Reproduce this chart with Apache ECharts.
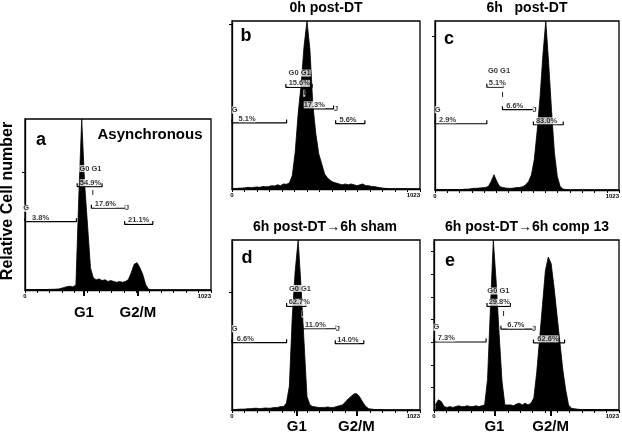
<!DOCTYPE html>
<html>
<head>
<meta charset="utf-8">
<script src="https://cdn.jsdelivr.net/npm/echarts@6/dist/echarts.min.js"></script>
<style>html,body{margin:0;padding:0;background:#fff}#c{width:622px;height:434px}</style>
</head>
<body>
<div id="c"></div>
<script>
// ---------- data (DNA content histograms, 64 channels of 16, relative counts in % of plot height) ----------
const histA = [0.3,0.3,0.3,0.3,0.3,0.3,0.3,0.3,0.4,0.4,0.5,0.6,1,1.5,2,2.2,1.8,3,55,100,62,38,13,7,6,6.5,5.5,6,5,5.5,5,4.5,5,4.5,5,6,10,15,16,13,9,3,0.5,0,0,0,0,0,0,0,0,0,0,0,0,0,0,0,0,0,0,0,0,0];
const histB = [0.3,0.3,0.5,0.5,0.8,1,0.8,1,1.2,1,1.5,1.3,1.5,2,1.8,2.5,2,3,2.8,3.5,8,22,45,62,85,100,83,50,33,21,15,9,6.5,5,4,3.5,3,2.5,3,2.5,3,2.5,2,2.5,3,2,2,1.5,1.5,1,0.8,0.5,0.3,0,0,0,0,0,0,0,0,0,0,0];
const histC = [0.3,0.3,0.3,0.3,0.3,0.3,0.3,0.3,0.3,0.3,0.5,0.5,0.8,1,1,1.2,1.3,1.5,2,5,9,5,2,1.5,1.2,1,1,1.2,1.5,1.5,2,3,5,9,18,35,55,80,100,75,47,22,8,2,0.5,0.3,0,0,0,0,0,0,0,0,0,0,0,0,0,0,0,0,0,0];
const histD = [0.3,0.3,0.5,0.5,0.6,0.8,0.8,1,1,0.8,1,1.2,1,1.2,1.5,1.5,2,2,4,14,55,82,100,72,40,8,3,2,1.8,1.5,1.5,1.5,1.8,1.5,1.5,2,2.5,3,4.5,6.5,8,9.5,9.5,7.5,4.5,2,0.8,0.5,0.3,0.3,0.3,0,0,0,0,0,0,0,0,0,0,0,0,0];
const histE = [3,6,5,2,1.5,2,1.5,2,2.5,2,2,2.5,2,2,2.5,2,2.5,3,18,60,100,75,45,17,3,3,3,2.5,3.5,4,3,4,3,4,7,22,42,62,82,90,86,72,56,40,24,12,3,1,0.8,0.5,0.3,0.3,0.3,0.3,0.3,0.3,0.3,0.3,0.3,0.3,0.3,0.3,0.3,0.3];

// gates: [start channel, end channel, level]
const gatesA = [[0,283,40],[287,424,60.4],[365,552,47.8],[548,703,38.4]];
const gatesB = [[0,297,39.4],[293,436,60.5],[384,553,47.7],[564,723,38.9]];
const gatesC = [[0,288,39.2],[288,380,60.8],[375,547,47.6],[547,713,38.6]];
const gatesD = [[0,297,39.6],[297,403,61],[384,567,47.8],[562,717,39]];
const gatesE = [[0,288,40],[293,422,61],[370,550,47.6],[550,722,39.5]];

// gate percentages: [channel, level, text]
const pctA = [[86,40,'3.8%'],[360,60.4,'54.9%'],[442,47.8,'17.6%'],[625,38.4,'21.1%']];
const pctB = [[82,39.4,'5.1%'],[366,60.5,'15.6%'],[448,47.7,'17.3%'],[631,38.9,'5.6%']];
const pctC = [[70,39.2,'2.9%'],[347,60.8,'5.1%'],[443,47.6,'6.6%'],[620,38.6,'83.0%']];
const pctD = [[73,39.6,'6.6%'],[366,61,'62.7%'],[454,47.8,'11.0%'],[631,39,'14.0%']];
const pctE = [[68,40,'7.3%'],[361,61,'29.8%'],[453,47.6,'6.7%'],[630,39.5,'62.6%']];

// gate names: [channel, level, text]
const namesA = [[7,47.8,'G'],[360,71,'G0 G1'],[373,56.5,'I'],[561,47.8,'J']];
const namesB = [[15,47,'G'],[368,69,'G0 G1'],[393,57,'I'],[567,47.7,'J']];
const namesC = [[15,47.5,'G'],[356,70.5,'G0 G1'],[375,56.3,'I'],[554,47.6,'J']];
const namesD = [[15,47.8,'G'],[370,71.5,'G0 G1'],[384,56.5,'I'],[576,47.8,'J']];
const namesE = [[13,48.6,'G'],[356,70,'G0 G1'],[385,56.4,'I'],[554,47.6,'J']];

// axis ticks / labels
const xTicks = [0,68,136,205,273,341,409,477,546,614,682,750,818,887,955,1023];
const xTickLabels = [0,1023];
const phaseLabels = ['G1','G2/M'];
const phaseA = [324,621];
const phaseD = [353,677];
const phaseE = [334,645];
const yTicksA = [69];
const yTicksB = [98];
const yTicksC = [90.7];
const yTicksD = [69.4];
const yTicksE = [13.3,26.6,40,53.3,66.6,80,93.3];

const titles = ['0h post-DT','6h   post-DT','6h post-DT\u21926h sham','6h post-DT\u21926h comp 13'];
const letters = ['a','b','c','d','e'];

// ---------- layout ----------
const layout = [
  {grid:{left:25,top:119,width:186,height:171}, hist:histA, gates:gatesA, pct:pctA, names:namesA, yTicks:yTicksA, phase:phaseA, phaseMargin:15, letter:[41,140]},
  {grid:{left:232,top:21,width:188,height:168}, hist:histB, gates:gatesB, pct:pctB, names:namesB, yTicks:yTicksB, phase:null, letter:[246,36]},
  {grid:{left:435,top:21,width:186,height:169}, hist:histC, gates:gatesC, pct:pctC, names:namesC, yTicks:yTicksC, phase:null, letter:[449,39]},
  {grid:{left:232,top:240,width:188,height:171}, hist:histD, gates:gatesD, pct:pctD, names:namesD, yTicks:yTicksD, phase:phaseD, phaseMargin:9, letter:[247,258]},
  {grid:{left:434,top:240,width:186,height:171}, hist:histE, gates:gatesE, pct:pctE, names:namesE, yTicks:yTicksE, phase:phaseE, phaseMargin:9, letter:[450,261]}
];

const binCenters = Array.from({length:64}, (_, i) => 16 * i + 8);
const FONT = 'Arial, "Liberation Sans", sans-serif';

const grids = [], xAxes = [], yAxes = [], series = [];
layout.forEach((p, k) => {
  grids.push(Object.assign({show:true, borderColor:'#000', borderWidth:1.3, containLabel:false}, p.grid));
  const xi = xAxes.length;
  xAxes.push({
    gridIndex:k, type:'value', min:0, max:1023,
    axisLine:{show:true, onZero:false, lineStyle:{color:'#000', width:1.3}},
    axisTick:{show:true, customValues:xTicks, length:3, lineStyle:{color:'#000', width:1}},
    axisLabel:{show:true, customValues:xTickLabels, formatter:(v) => String(Math.round(v)), fontSize:6, fontWeight:'bold', fontFamily:FONT, color:'#000', margin:3, alignMaxLabel:'right'},
    splitLine:{show:false}
  });
  if (p.phase) {
    const ph = p.phase;
    xAxes.push({
      gridIndex:k, type:'value', min:0, max:1023, position:'bottom',
      axisLine:{show:false},
      axisTick:{show:true, customValues:ph, length:6, lineStyle:{color:'#000', width:2}},
      axisLabel:{show:true, customValues:ph, formatter:(v) => phaseLabels[ph.indexOf(v)] || '', fontSize:15, fontWeight:'bold', fontFamily:FONT, color:'#000', margin:p.phaseMargin},
      splitLine:{show:false}
    });
  }
  yAxes.push({
    gridIndex:k, type:'value', min:0, max:100,
    axisLine:{show:true, onZero:false, lineStyle:{color:'#000', width:1.3}},
    axisTick:{show:true, customValues:p.yTicks, length:3, lineStyle:{color:'#000', width:1}},
    axisLabel:{show:false}, splitLine:{show:false}
  });
  series.push({
    type:'line', xAxisIndex:xi, yAxisIndex:k, data:binCenters.map((x, i) => [x, p.hist[i]]),
    symbol:'none', lineStyle:{color:'#000', width:0.8}, areaStyle:{color:'#000', opacity:1}, z:2, silent:true
  });
  p.gates.forEach(g => {
    series.push({
      type:'line', xAxisIndex:xi, yAxisIndex:k,
      data:[[g[0], g[2] + 2], [g[0], g[2]], [g[1], g[2]], [g[1], g[2] + 2]],
      symbol:'none', lineStyle:{color:'#000', width:1.2}, z:3, silent:true
    });
  });
  const lbl = {fontSize:7.5, fontWeight:'bold', fontFamily:FONT, color:'#000', backgroundColor:'#fff', padding:0, lineHeight:7};
  series.push({
    type:'scatter', xAxisIndex:xi, yAxisIndex:k, symbolSize:1, itemStyle:{color:'transparent'}, z:4, silent:true,
    data:p.pct.map(t => ({value:[t[0], t[1]], name:t[2]})),
    label:Object.assign({show:true, position:'top', distance:0, formatter:'{b}'}, lbl)
  });
  series.push({
    type:'scatter', xAxisIndex:xi, yAxisIndex:k, symbolSize:1, itemStyle:{color:'transparent'}, z:4, silent:true,
    data:p.names.map(t => ({value:[t[0], t[1]], name:t[2]})),
    label:Object.assign({show:true, position:'inside', formatter:'{b}'}, lbl)
  });
});

const txt = (x, y, s, font, extra) => Object.assign({type:'text', x:x, y:y, silent:true,
  style:{text:s, font:font, fill:'#000', textAlign:'center', textVerticalAlign:'middle', align:'center', verticalAlign:'middle'}}, extra || {});

const graphics = [
  txt(326, 8, titles[0], 'bold 14px ' + FONT),
  txt(527, 8, titles[1], 'bold 14px ' + FONT),
  txt(325, 227, titles[2], 'bold 14px ' + FONT),
  txt(527, 227, titles[3], 'bold 14px ' + FONT),
  txt(150, 135, 'Asynchronous', 'bold 15px ' + FONT),
  txt(8, 201, 'Relative Cell number', 'bold 16px ' + FONT, {rotation:Math.PI / 2})
];
layout.forEach((p, k) => graphics.push(txt(p.letter[0], p.letter[1], letters[k], 'bold 18px ' + FONT)));

const chart = echarts.init(document.getElementById('c'), null, {renderer:'canvas'});
chart.setOption({
  animation:false,
  backgroundColor:'#fff',
  grid:grids, xAxis:xAxes, yAxis:yAxes, series:series,
  graphic:graphics
});
</script>
</body>
</html>
